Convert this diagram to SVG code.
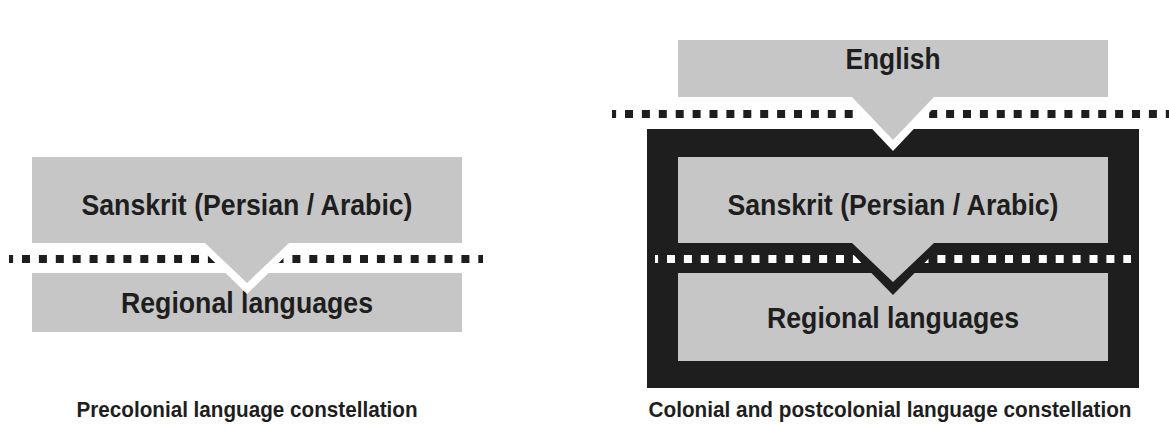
<svg xmlns="http://www.w3.org/2000/svg" width="1169" height="427" viewBox="0 0 1169 427">
  <style>
    .box { fill: #c6c6c6; }
    .ink { fill: #1e1e1e; }
    .gap { fill: #ffffff; }
    .lbl { font-family: "Liberation Sans", Arial, sans-serif; font-weight: bold; font-size: 29px; fill: #1e1e1e; text-anchor: middle; }
    .cap { font-family: "Liberation Sans", Arial, sans-serif; font-weight: bold; font-size: 22px; fill: #1e1e1e; text-anchor: middle; }
    .dots { fill: none; stroke-width: 8; stroke-dasharray: 8 8.9; }
  </style>
  <rect width="1169" height="427" fill="#ffffff"/>

  <!-- dotted dividers between language layers -->
  <g id="dividers">
    <line class="dots" x1="9" y1="259" x2="483" y2="259" stroke="#1e1e1e" stroke-dashoffset="3.9"/>
    <rect class="ink" x="647" y="129" width="492" height="259"/>
    <line class="dots" x1="655" y1="259" x2="1131" y2="259" stroke="#ffffff" stroke-dashoffset="4.9"/>
    <line class="dots" x1="612" y1="114" x2="1169" y2="114" stroke="#1e1e1e" stroke-dashoffset="3.9"/>
  </g>

  <!-- precolonial constellation -->
  <g id="pre-regional">
    <rect class="box" x="32" y="273" width="430" height="59"/>
    <text class="lbl" x="247" y="313" textLength="252" lengthAdjust="spacingAndGlyphs">Regional languages</text>
  </g>
  <g id="pre-sanskrit">
    <polygon class="gap" points="195,243 299,243 247,294"/>
    <path class="box" d="M32,157 H462 V243 H289 L247,283 L205,243 H32 Z"/>
    <text class="lbl" x="247" y="215" textLength="331" lengthAdjust="spacingAndGlyphs">Sanskrit (Persian / Arabic)</text>
  </g>
  <g id="pre-caption">
    <text class="cap" x="247" y="417" textLength="341" lengthAdjust="spacingAndGlyphs">Precolonial language constellation</text>
  </g>

  <!-- colonial and postcolonial constellation -->
  <g id="col-regional">
    <rect class="box" x="678" y="273" width="430" height="88"/>
    <text class="lbl" x="893" y="328" textLength="252" lengthAdjust="spacingAndGlyphs">Regional languages</text>
  </g>
  <g id="col-sanskrit">
    <polygon class="ink" points="842,243 944,243 893,295"/>
    <path class="box" d="M678,157 H1108 V243 H934 L893,282 L852,243 H678 Z"/>
    <text class="lbl" x="893" y="215" textLength="331" lengthAdjust="spacingAndGlyphs">Sanskrit (Persian / Arabic)</text>
  </g>
  <g id="col-english">
    <polygon class="gap" points="842,97 944,97 893,151"/>
    <path class="box" d="M678,40 H1108 V97 H934 L893,140 L852,97 H678 Z"/>
    <text class="lbl" x="893" y="69" textLength="95" lengthAdjust="spacingAndGlyphs">English</text>
  </g>
  <g id="col-caption">
    <text class="cap" x="890" y="417" textLength="483" lengthAdjust="spacingAndGlyphs">Colonial and postcolonial language constellation</text>
  </g>
</svg>
